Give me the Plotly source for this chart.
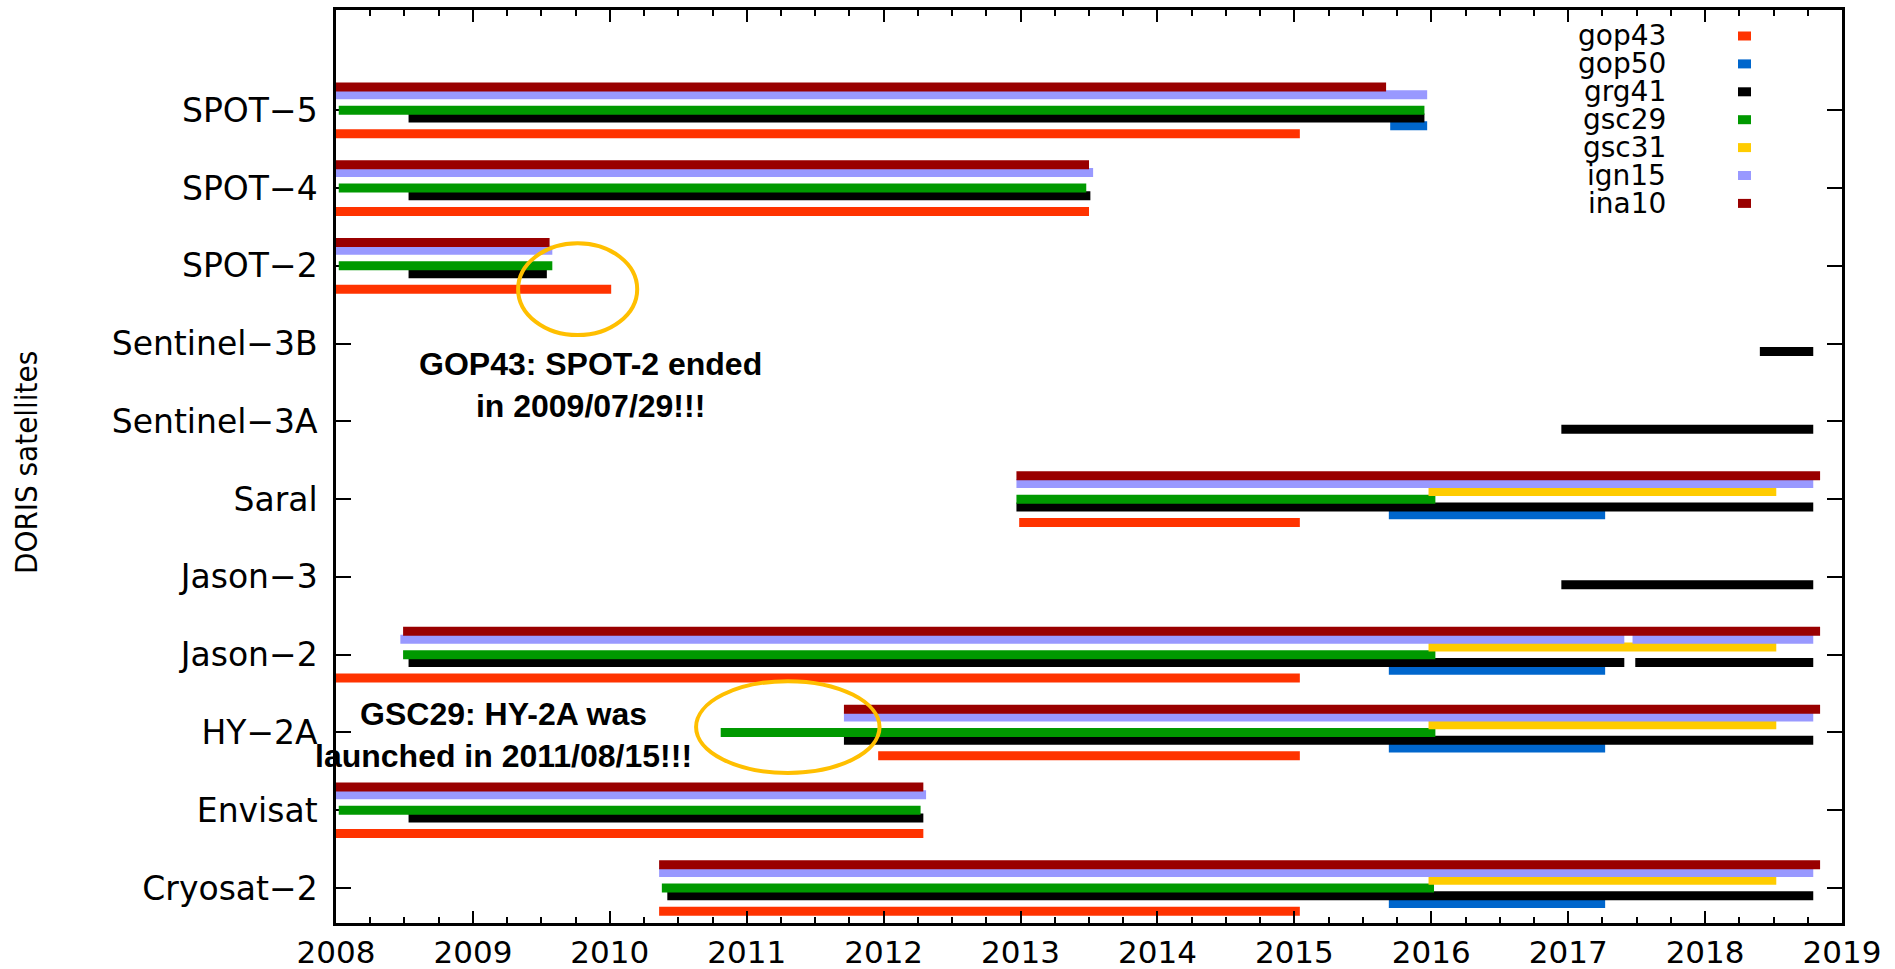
import plotly.graph_objects as go

# ---------------- data ----------------
satellites = ["Cryosat−2", "Envisat", "HY−2A", "Jason−2", "Jason−3", "Saral",
              "Sentinel−3A", "Sentinel−3B", "SPOT−2", "SPOT−4", "SPOT−5"]
year_ticks = list(range(2008, 2020))
series_names = ["gop43", "gop50", "grg41", "gsc29", "gsc31", "ign15", "ina10"]

gop43_sat = ["SPOT−5", "SPOT−4", "SPOT−2", "Saral", "Jason−2", "HY−2A", "Envisat", "Cryosat−2"]
gop43_start = [2008.0, 2008.0, 2008.0, 2012.99, 2008.0, 2011.96, 2008.0, 2010.36]
gop43_end = [2015.04, 2013.50, 2010.01, 2015.04, 2015.04, 2015.04, 2012.29, 2015.04]

gop50_sat = ["SPOT−5", "Saral", "Jason−2", "HY−2A", "Cryosat−2"]
gop50_start = [2015.70, 2015.69, 2015.69, 2015.69, 2015.69]
gop50_end = [2015.97, 2017.27, 2017.27, 2017.27, 2017.27]

grg41_sat = ["SPOT−5", "SPOT−4", "SPOT−2", "Sentinel−3B", "Sentinel−3A", "Saral", "Jason−3",
             "Jason−2", "Jason−2", "HY−2A", "Envisat", "Cryosat−2"]
grg41_start = [2008.53, 2008.53, 2008.53, 2018.40, 2016.95, 2012.97, 2016.95,
               2008.53, 2017.49, 2011.71, 2008.53, 2010.42]
grg41_end = [2015.95, 2013.51, 2009.54, 2018.79, 2018.79, 2018.79, 2018.79,
             2017.41, 2018.79, 2018.79, 2012.29, 2018.79]

gsc29_sat = ["SPOT−5", "SPOT−4", "SPOT−2", "Saral", "Jason−2", "HY−2A", "Envisat", "Cryosat−2"]
gsc29_start = [2008.02, 2008.02, 2008.02, 2012.97, 2008.49, 2010.81, 2008.02, 2010.38]
gsc29_end = [2015.95, 2013.48, 2009.58, 2016.03, 2016.03, 2016.03, 2012.27, 2016.02]

gsc31_sat = ["Saral", "Jason−2", "HY−2A", "Cryosat−2"]
gsc31_start = [2015.98, 2015.98, 2015.98, 2015.98]
gsc31_end = [2018.52, 2018.52, 2018.52, 2018.52]

ign15_sat = ["SPOT−5", "SPOT−4", "SPOT−2", "Saral", "Jason−2", "Jason−2", "HY−2A", "Envisat", "Cryosat−2"]
ign15_start = [2008.0, 2008.0, 2008.0, 2012.97, 2008.47, 2017.47, 2011.71, 2008.0, 2010.36]
ign15_end = [2015.97, 2013.53, 2009.58, 2018.79, 2017.41, 2018.79, 2018.79, 2012.31, 2018.79]

ina10_sat = ["SPOT−5", "SPOT−4", "SPOT−2", "Saral", "Jason−2", "HY−2A", "Envisat", "Cryosat−2"]
ina10_start = [2008.0, 2008.0, 2008.0, 2012.97, 2008.49, 2011.71, 2008.0, 2010.36]
ina10_end = [2015.67, 2013.50, 2009.56, 2018.84, 2018.84, 2018.84, 2012.29, 2018.84]

series_data = {
    "gop43": (gop43_sat, gop43_start, gop43_end),
    "gop50": (gop50_sat, gop50_start, gop50_end),
    "grg41": (grg41_sat, grg41_start, grg41_end),
    "gsc29": (gsc29_sat, gsc29_start, gsc29_end),
    "gsc31": (gsc31_sat, gsc31_start, gsc31_end),
    "ign15": (ign15_sat, ign15_start, ign15_end),
    "ina10": (ina10_sat, ina10_start, ina10_end),
}

# ---------------- style ----------------
colors = {"gop43": "#FF3300", "gop50": "#0066CC", "grg41": "#000000", "gsc29": "#009900",
          "gsc31": "#FFCC00", "ign15": "#9999FF", "ina10": "#990000"}
offsets = {"gop43": -0.3, "gop50": -0.2, "grg41": -0.1, "gsc29": 0.0,
           "gsc31": 0.1, "ign15": 0.2, "ina10": 0.3}

W, H = 1895, 969
PL, PR, PT, PB = 336, 1842, 10, 923
PW, PH = PR - PL, PB - PT

def px_to_paper(px, py):
    return (px - PL) / PW, (PB - py) / PH

fig = go.Figure()
for name in series_names:
    sats, starts, ends = series_data[name]
    xs, ys = [], []
    for s, a, b in zip(sats, starts, ends):
        yv = satellites.index(s) + offsets[name]
        xs += [a, b, None]
        ys += [yv, yv, None]
    fig.add_trace(go.Scatter(x=xs, y=ys, mode="lines", name=name, showlegend=False,
                             line=dict(color=colors[name], width=9), hoverinfo="skip"))

# custom legend (text right-aligned, swatch on the right)
for i, name in enumerate(series_names):
    yrow = 36 + i * 27.9
    tx, ty = px_to_paper(1668, yrow)
    fig.add_annotation(x=tx, y=ty, xref="paper", yref="paper", text=name, showarrow=False,
                       xanchor="right", yanchor="middle",
                       font=dict(family="DejaVu Sans", size=28, color="black"))
    x0, y0 = px_to_paper(1738, yrow + 4.5)
    x1, y1 = px_to_paper(1751, yrow - 4.5)
    fig.add_shape(type="rect", xref="paper", yref="paper", x0=x0, x1=x1, y0=y0, y1=y1,
                  fillcolor=colors[name], line=dict(width=0))

# annotations
fig.add_annotation(x=2009.86, y=6.47, xref="x", yref="y", showarrow=False,
                   text="GOP43: SPOT-2 ended<br>in 2009/07/29!!!",
                   font=dict(family="Liberation Sans", size=32, color="black", weight="bold"),
                   align="center")
fig.add_annotation(x=2009.22, y=1.97, xref="x", yref="y", showarrow=False,
                   text="GSC29: HY-2A was<br>launched in 2011/08/15!!!",
                   font=dict(family="Liberation Sans", size=32, color="black", weight="bold"),
                   align="center")
fig.add_shape(type="circle", xref="x", yref="y", x0=2009.33, x1=2010.20, y0=7.11, y1=8.29,
              line=dict(color="#FFBF00", width=4))
fig.add_shape(type="circle", xref="x", yref="y", x0=2010.63, x1=2011.97, y0=1.48, y1=2.66,
              line=dict(color="#FFBF00", width=4))

# y title
yx, yy = px_to_paper(26, 463)
fig.add_annotation(x=yx, y=yy, xref="paper", yref="paper", text="DORIS satellites",
                   textangle=-90, showarrow=False, xanchor="center", yanchor="middle",
                   font=dict(family="Liberation Sans Narrow, DejaVu Sans Condensed, Liberation Sans",
                             size=31, color="black"))

fig.update_xaxes(range=[2008, 2019], tickvals=year_ticks, ticktext=[str(y) for y in year_ticks],
                 ticks="inside", ticklen=12, tickwidth=2, tickcolor="black",
                 minor=dict(dtick=0.25, tick0=2008, ticks="inside", ticklen=6, tickwidth=2,
                            tickcolor="black", showgrid=False),
                 showline=True, linecolor="black", linewidth=2.5, mirror="allticks",
                 showgrid=False, zeroline=False, ticklabelstandoff=0,
                 tickfont=dict(family="DejaVu Sans", size=31, color="black"))
fig.update_yaxes(range=[-0.45, 11.29], tickvals=list(range(len(satellites))), ticktext=satellites,
                 ticks="inside", ticklen=15, tickwidth=2, tickcolor="black",
                 showline=True, linecolor="black", linewidth=2.5, mirror="allticks",
                 showgrid=False, zeroline=False, ticklabelstandoff=9, layer="below traces",
                 tickfont=dict(family="DejaVu Sans", size=33, color="black"))

fig.update_layout(width=W, height=H, margin=dict(l=PL, r=W - PR, t=PT, b=H - PB, autoexpand=False),
                  plot_bgcolor="white", paper_bgcolor="white", showlegend=False)

fig.write_html("out.html", post_script="document.body.style.margin='0';",
               config={"displayModeBar": False})
